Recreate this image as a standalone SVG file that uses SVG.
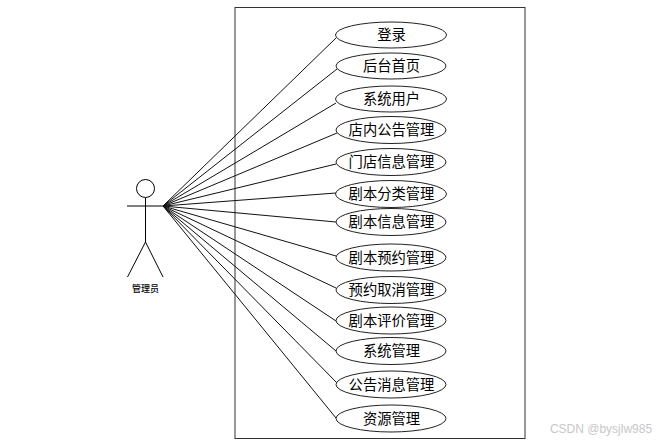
<svg xmlns="http://www.w3.org/2000/svg" width="660" height="443" viewBox="0 0 660 443">
<style>
.s{fill:none;stroke:#000;stroke-width:1}
.c{fill:none;stroke:#111;stroke-width:1}
.e{fill:#fff;stroke:#222;stroke-width:1}
.t{font-family:"Noto Sans CJK SC","Liberation Sans",sans-serif;font-size:14.3px;fill:#000;text-anchor:middle}
</style>
<rect width="660" height="443" fill="#fff"/>
<rect id="boundary" x="235" y="7.500" width="290" height="431" fill="#fff" stroke="#333" stroke-width="1"/>
<g id="connectors">
<path class="c" d="M163 206L336 38"/>
<path class="c" d="M163 206L337 69"/>
<path class="c" d="M163 206L336 103"/>
<path class="c" d="M163 206L337 133"/>
<path class="c" d="M163 206L336 164"/>
<path class="c" d="M163 206L336 193"/>
<path class="c" d="M163 206L336 222"/>
<path class="c" d="M163 206L336 256"/>
<path class="c" d="M163 206L336 288"/>
<path class="c" d="M163 206L336 321"/>
<path class="c" d="M163 206L336 351"/>
<path class="c" d="M163 206L338 384"/>
<path class="c" d="M163 206L336 418"/>
</g>
<g id="actor">
<circle class="s" cx="145.500" cy="188.500" r="9"/>
<path class="s" d="M145.500 198V242M127 206H163M145.500 242L127.500 277M145.500 242L163 277"/>
<text x="145.500" y="292" font-family="'Noto Sans CJK SC',sans-serif" font-size="9" font-weight="500" text-anchor="middle">管理员</text>
</g>
<g id="uc1"><ellipse class="e" cx="391" cy="35" rx="55.500" ry="13"/><text class="t" x="391.500" y="40">登录</text></g>
<g id="uc2"><ellipse class="e" cx="391" cy="66" rx="55" ry="13"/><text class="t" x="391.500" y="71">后台首页</text></g>
<g id="uc3"><ellipse class="e" cx="391" cy="99" rx="55.500" ry="13"/><text class="t" x="391.500" y="104">系统用户</text></g>
<g id="uc4"><ellipse class="e" cx="391" cy="130" rx="55" ry="13.500"/><text class="t" x="391.500" y="135">店内公告管理</text></g>
<g id="uc5"><ellipse class="e" cx="391" cy="162" rx="55" ry="13.500"/><text class="t" x="391.500" y="167">门店信息管理</text></g>
<g id="uc6"><ellipse class="e" cx="391" cy="194" rx="55.500" ry="13.500"/><text class="t" x="391.500" y="199">剧本分类管理</text></g>
<g id="uc7"><ellipse class="e" cx="391" cy="222" rx="55" ry="13.500"/><text class="t" x="391.500" y="227">剧本信息管理</text></g>
<g id="uc8"><ellipse class="e" cx="391" cy="257.500" rx="55" ry="13.500"/><text class="t" x="391.500" y="263">剧本预约管理</text></g>
<g id="uc9"><ellipse class="e" cx="391" cy="290" rx="55" ry="13.500"/><text class="t" x="391.500" y="295">预约取消管理</text></g>
<g id="uc10"><ellipse class="e" cx="391" cy="320.500" rx="55" ry="13.500"/><text class="t" x="391.500" y="326">剧本评价管理</text></g>
<g id="uc11"><ellipse class="e" cx="391" cy="351" rx="55" ry="13.500"/><text class="t" x="391.500" y="356">系统管理</text></g>
<g id="uc12"><ellipse class="e" cx="391" cy="384.500" rx="55" ry="13.500"/><text class="t" x="391.500" y="390">公告消息管理</text></g>
<g id="uc13"><ellipse class="e" cx="391" cy="418.500" rx="55" ry="13.500"/><text class="t" x="391.500" y="424">资源管理</text></g>
<text x="601" y="433" font-family="'Liberation Sans',sans-serif" font-size="12" fill="#c8c8c8" text-anchor="middle">CSDN @bysjlw985</text>
</svg>
